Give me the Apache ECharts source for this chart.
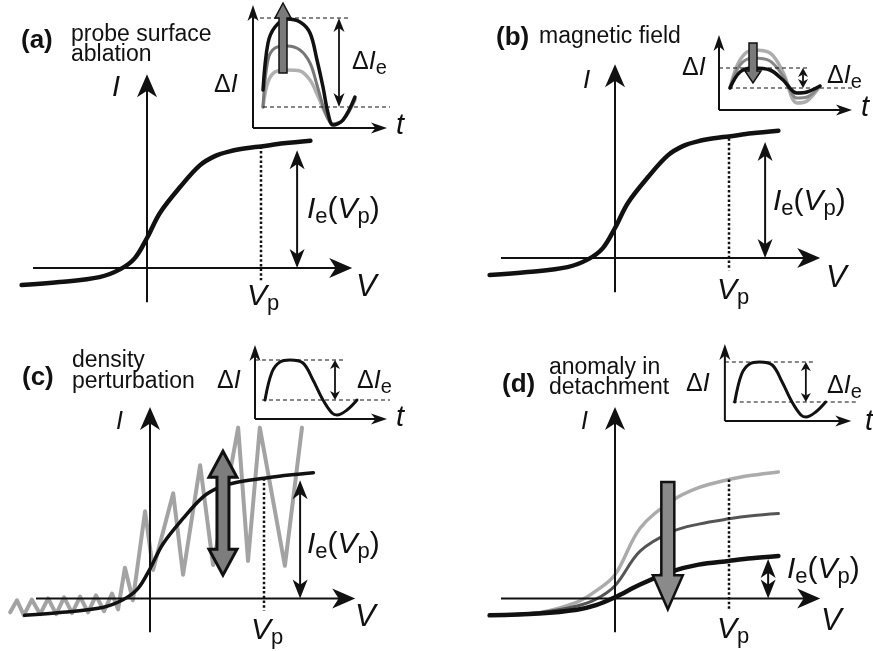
<!DOCTYPE html>
<html>
<head>
<meta charset="utf-8">
<script src="https://cdn.jsdelivr.net/npm/echarts@6/dist/echarts.min.js"></script>
<style>
  html, body { margin: 0; background: #fff; }
  #chart { width: 873px; height: 651px; }
</style>
</head>
<body>
<div id="chart"></div>
<script>
// ---- data (sketch units) ----
// ideal probe I-V characteristic
const ivV = [-3.3, -2.3, -1.25, -0.7, -0.32, 0, 0.34, 0.87, 1.39, 1.8, 2.18, 2.6, 3.0, 3.6, 4.3];
const ivI = [-0.45, -0.37, -0.24, -0.03, 0.26, 0.79, 1.45, 2.13, 2.7, 2.95, 3.07, 3.15, 3.2, 3.28, 3.35];

// (c) fluctuating characteristic
const zigV = [-3.68, -3.5, -3.32, -3.11, -2.89, -2.68, -2.47, -2.26, -2.05, -1.84, -1.63, -1.42, -1.21, -1.0,
  -0.84, -0.66, -0.45, -0.13, 0.08, 0.61, 0.87, 1.32, 1.66, 2.32, 2.58, 2.89, 3.55, 4.0];
const zigI = [-0.37, -0.05, -0.45, -0.03, -0.42, 0, -0.42, 0.03, -0.39, 0.05, -0.37, 0.08, -0.34, 0.13,
  -0.29, 0.82, -0.05, 2.32, 0.76, 2.8, 0.63, 3.55, 0.89, 4.55, 1.0, 4.55, 0.87, 4.55];

// (d) characteristics during detachment
const detV = [-3.3, -2.0, -1.0, -0.5, 0, 0.66, 1.5, 2.2, 3.0, 3.6, 4.3];
const detHighI = [-0.45, -0.38, -0.1, 0.2, 0.63, 1.87, 2.6, 2.95, 3.17, 3.28, 3.37];
const detMidI = [-0.45, -0.38, -0.2, -0.02, 0.34, 1.26, 1.78, 1.98, 2.12, 2.2, 2.26];
const detLowI = [-0.45, -0.4, -0.3, -0.18, 0.03, 0.37, 0.72, 0.9, 1.0, 1.07, 1.13];

// insets: delta I vs t
const ablT = [1.0, 1.5, 2.2, 3.4, 4.7, 5.7, 6.4, 7.0, 7.5, 8.0, 9.0, 10.2];
const ablBlack = [3.8, 8.5, 10.1, 10.9, 10.6, 9.5, 6.8, 4.1, 1.5, 0.3, 0.8, 3.1];
const ablMid = [2.1, 6.8, 8.0, 8.2, 7.8, 6.5, 4.3, 2.2, 0.9, 0.4, 0.8, 2.9];
const ablLow = [2.1, 4.6, 5.6, 5.8, 5.7, 4.8, 3.4, 2.0, 1.0, 0.4, 0.8, 2.8];

const fldT = [1.1, 2.1, 3.4, 5.1, 6.4, 7.8, 8.8, 10.1];
const fldBlack = [2.2, 3.8, 4.2, 4.0, 3.0, 1.7, 1.8, 2.4];
const fldMid = [2.2, 4.5, 5.2, 4.9, 3.4, 1.2, 1.3, 2.4];
const fldHigh = [2.2, 5.0, 6.0, 5.7, 3.8, 0.7, 0.9, 2.4];

const stdT = [1.0, 1.7, 2.5, 3.5, 4.8, 5.8, 6.8, 7.7, 8.2, 9.2, 10.2];
const stdDI = [1.9, 4.7, 5.7, 5.9, 5.6, 3.9, 1.9, 0.6, 0.4, 0.9, 1.9];

// annotation levels
const Vp = 3.0;
const ivAtVp = 3.2;
const ieTop = [3.1, 3.05, 3.15, 1.05];
const dIeTop = [11.0, 4.2, 5.9, 5.9];
const dIeBottom = [2.1, 2.2, 1.9, 1.9];

// ---- layout ----
const U = 38, u = 10;
const mainOrigins = [[147, 268], [615, 258], [150, 601], [615, 601]];
const insetOrigins = [[253, 128], [719, 110], [255, 419], [725, 421]];
const insetYMax = [12.8, 7.8, 7.8, 7.8];
const ink = '#111';

const grids = [], xAxes = [], yAxes = [];
mainOrigins.forEach(([ox, oy], i) => {
  grids.push({ left: ox - 3.8 * U, top: oy - 5.6 * U, width: 9.6 * U, height: 7 * U });
  xAxes.push({ type: 'value', gridIndex: i, min: -3.8, max: 5.8, show: false });
  yAxes.push({ type: 'value', gridIndex: i, min: -1.4, max: 5.6, show: false });
});
insetOrigins.forEach(([ox, oy], i) => {
  const ym = insetYMax[i];
  grids.push({ left: ox - u, top: oy - ym * u, width: 16 * u, height: (ym + 1) * u });
  xAxes.push({ type: 'value', gridIndex: 4 + i, min: -1, max: 15, show: false });
  yAxes.push({ type: 'value', gridIndex: 4 + i, min: -1, max: ym, show: false });
});

const pairs = (xs, ys) => xs.map((x, k) => [x, ys[k]]);

function curve(gi, xs, ys, color, width, z, smooth) {
  return {
    type: 'line', xAxisIndex: gi, yAxisIndex: gi, data: pairs(xs, ys),
    smooth: smooth === undefined ? 0.35 : smooth,
    showSymbol: false, clip: false, silent: true, z: z || 2,
    lineStyle: { color: color, width: width, cap: 'round', join: 'round' }
  };
}

// thin lines with optional notched arrow heads
function arrows(gi, rows, o) {
  return {
    type: 'custom', coordinateSystem: 'cartesian2d', xAxisIndex: gi, yAxisIndex: gi,
    silent: true, clip: false, z: o.z || 3, data: rows,
    renderItem: function (params, api) {
      const a = api.coord([api.value(0), api.value(1)]);
      const b = api.coord([api.value(2), api.value(3)]);
      const dx = b[0] - a[0], dy = b[1] - a[1], len = Math.hypot(dx, dy) || 1;
      const ux = dx / len, uy = dy / len, px = -uy, py = ux;
      const H = o.head || [0, 0];
      const head = (tip, sx, sy) => {
        const L = H[1], W = H[0] / 2;
        const bx = tip[0] - sx * L, by = tip[1] - sy * L;
        const nx = tip[0] - sx * L * 0.72, ny = tip[1] - sy * L * 0.72;
        return { type: 'polygon', shape: { points: [tip, [bx + px * W, by + py * W], [nx, ny], [bx - px * W, by - py * W]] },
          style: { fill: o.color || ink } };
      };
      let s = a, e = b;
      if (o.end) e = [b[0] - ux * H[1] * 0.7, b[1] - uy * H[1] * 0.7];
      if (o.start) s = [a[0] + ux * H[1] * 0.7, a[1] + uy * H[1] * 0.7];
      const kids = [{ type: 'line', shape: { x1: s[0], y1: s[1], x2: e[0], y2: e[1] },
        style: { stroke: o.color || ink, lineWidth: o.width || 2, lineDash: o.dash || null } }];
      if (o.end) kids.push(head(b, ux, uy));
      if (o.start) kids.push(head(a, -ux, -uy));
      return { type: 'group', children: kids };
    }
  };
}

// filled block arrows with dark outline
function blockArrow(gi, rows, o) {
  return {
    type: 'custom', coordinateSystem: 'cartesian2d', xAxisIndex: gi, yAxisIndex: gi,
    silent: true, clip: false, z: 6, data: rows,
    renderItem: function (params, api) {
      const a = api.coord([api.value(0), api.value(1)]);
      const b = api.coord([api.value(2), api.value(3)]);
      const dx = b[0] - a[0], dy = b[1] - a[1], len = Math.hypot(dx, dy) || 1;
      const ux = dx / len, uy = dy / len, px = -uy, py = ux;
      const sw = o.shaft / 2, hw = o.headW / 2, hl = o.headL;
      const at = (p, along, side) => [p[0] + ux * along + px * side, p[1] + uy * along + py * side];
      let pts;
      if (o.both) {
        pts = [a, at(a, hl, hw), at(a, hl, sw), at(b, -hl, sw), at(b, -hl, hw), b,
               at(b, -hl, -hw), at(b, -hl, -sw), at(a, hl, -sw), at(a, hl, -hw)];
      } else {
        pts = [at(a, 0, sw), at(b, -hl, sw), at(b, -hl, hw), b, at(b, -hl, -hw), at(b, -hl, -sw), at(a, 0, -sw)];
      }
      return { type: 'polygon', shape: { points: pts },
        style: { fill: o.fill || '#8a8a8a', stroke: ink, lineWidth: o.stroke || 2, lineJoin: 'miter' } };
    }
  };
}

const series = [];

// main panels: axes, Vp marker, Ie(Vp) arrow
const ieX = [3.95, 3.95, 3.95, 4.03];
const vpTop = [ivAtVp, ivAtVp - 0.05, ivAtVp, 3.17];
for (let i = 0; i < 4; i++) {
  series.push(arrows(i, [[-3.0, 0, 5.4, 0], [0, -0.9, 0, 5.1]], { end: true, head: [20, 23], width: 2 }));
  series.push(arrows(i, [[Vp, vpTop[i], Vp, -0.32]], { width: 2.5, dash: [2.5, 2.2] }));
  series.push(arrows(i, [[ieX[i], 0, ieX[i], ieTop[i]]], { start: true, end: true, head: [15, 19], width: 2 }));
}
// curves
series.push(curve(0, ivV, ivI, ink, 4.5, 4));
series.push(curve(1, ivV, ivI, ink, 4.5, 4));
series.push(curve(2, zigV, zigI, '#a3a3a3', 4, 2, false));
series.push(curve(2, ivV, ivI, ink, 3.5, 4));
series.push(curve(3, detV, detHighI, '#ababab', 3.5, 2));
series.push(curve(3, detV, detMidI, '#555', 3, 2));
series.push(curve(3, detV, detLowI, ink, 4.5, 4));
series.push(blockArrow(2, [[1.92, 0.62, 1.92, 3.92]], { shaft: 12, headW: 28, headL: 26, both: true, stroke: 3, fill: '#7d7d7d' }));
series.push(blockArrow(3, [[1.39, 3.1, 1.39, -0.29]], { shaft: 13, headW: 30, headL: 34, stroke: 2.5, fill: '#8a8a8a' }));

// insets
const insetTips = [[13.4, 12.3], [13.3, 7.5], [13.2, 7.4], [12.8, 7.7]];
const dashTopEnd = [9.7, 8.8, 9.0, 9.2];
const dashBot = [[1.0, 13.7], [1.0, 13.6], [0.7, 13.5], [0.8, 13.4]];
const dIeX = [8.6, 8.4, 8.0, 8.2];
for (let i = 0; i < 4; i++) {
  const gi = 4 + i;
  series.push(arrows(gi, [[0, 0, insetTips[i][0], 0], [0, 0, 0, insetTips[i][1]]], { end: true, head: [11, 16], width: 2 }));
  series.push(arrows(gi, [[0, dIeTop[i], dashTopEnd[i], dIeTop[i]], [dashBot[i][0], dIeBottom[i], dashBot[i][1], dIeBottom[i]]],
    { width: 1.2, dash: [4, 3] }));
  const small = i > 0;
  series.push(arrows(gi, [[dIeX[i], dIeBottom[i], dIeX[i], dIeTop[i]]],
    { start: true, end: true, head: small ? [10, 9] : [11, 14], width: 1.8 }));
}
series.push(curve(4, ablT, ablLow, '#b0b0b0', 3.5, 2));
series.push(curve(4, ablT, ablMid, '#777', 3, 2));
series.push(curve(4, ablT, ablBlack, ink, 3.5, 4));
series.push(blockArrow(4, [[3.0, 5.5, 3.0, 12.5]], { shaft: 8, headW: 16, headL: 15, stroke: 1.5, fill: '#7a7a7a' }));
series.push(curve(5, fldT, fldHigh, '#adadad', 3.5, 2));
series.push(curve(5, fldT, fldMid, '#888', 3, 2));
series.push(curve(5, fldT, fldBlack, ink, 3.5, 4));
series.push(blockArrow(5, [[3.4, 6.7, 3.4, 2.7]], { shaft: 8, headW: 16, headL: 12, stroke: 1.5, fill: '#7a7a7a' }));
series.push(curve(6, stdT, stdDI, ink, 3, 4));
series.push(curve(7, stdT, stdDI, ink, 3, 4));

// ---- text ----
const FAM = '"Liberation Sans", Arial, Helvetica, sans-serif';
const mctx = document.createElement('canvas').getContext('2d');
function txt(x, y, t, font, extra) {
  return Object.assign({ type: 'text', x: x, y: y, silent: true, z: 10,
    style: { text: t, font: font, fill: ink, textAlign: 'left', textVerticalAlign: 'middle', align: 'left', verticalAlign: 'middle' } }, extra || {});
}
function seq(x, y, parts) {
  const out = [];
  parts.forEach(([t, font, dy]) => {
    out.push(txt(x, y + (dy || 0), t, font));
    mctx.font = font;
    x += mctx.measureText(t).width;
  });
  return out;
}
const it = s => 'italic ' + s + 'px ' + FAM;
const rg = s => s + 'px ' + FAM;
const bd = s => 'bold ' + s + 'px ' + FAM;
const ieVp = (x, y) => seq(x, y, [['I', it(30)], ['e', rg(22), 7], ['(', rg(30)], ['V', it(30)], ['p', rg(22), 7], [')', rg(30)]]);
const vpLab = (x, y) => seq(x, y, [['V', it(30)], ['p', rg(22), 7]]);
const dI = (x, y) => seq(x, y, [['\u0394', rg(25)], ['I', it(25)]]);
const dIe = (x, y) => seq(x, y, [['\u0394', rg(25)], ['I', it(25)], ['e', rg(20), 6]]);

const labels = [].concat(
  // (a)
  [txt(21, 41, '(a)', bd(26)), txt(71, 35, 'probe surface', rg(23)), txt(71, 55, 'ablation', rg(23)),
   txt(112, 88, 'I', it(29)), txt(356, 287, 'V', it(31)), txt(396, 126, 't', it(29))],
  vpLab(247, 297), ieVp(307, 210), dI(214, 85), dIe(352, 62),
  // (b)
  [txt(496, 38, '(b)', bd(26)), txt(539, 37, 'magnetic field', rg(23)),
   txt(583, 81, 'I', it(26)), txt(826, 278, 'V', it(31)), txt(861, 108, 't', it(29))],
  vpLab(717, 291), ieVp(773, 202), dI(682, 68), dIe(827, 76),
  // (c)
  [txt(22, 378, '(c)', bd(26)), txt(72, 361, 'density', rg(23)), txt(72, 382, 'perturbation', rg(23)),
   txt(116, 422, 'I', it(25)), txt(355, 617, 'V', it(31)), txt(396, 418, 't', it(29))],
  vpLab(251, 631), ieVp(307, 545), dI(217, 381), dIe(357, 381),
  // (d)
  [txt(502, 385, '(d)', bd(26)), txt(549, 368, 'anomaly in', rg(23)), txt(549, 388, 'detachment', rg(23)),
   txt(581, 422, 'I', it(25)), txt(821, 621, 'V', it(31)), txt(865, 422, 't', it(29))],
  vpLab(717, 630), ieVp(787, 570), dI(686, 384), dIe(827, 386)
);

const chart = echarts.init(document.getElementById('chart'), null, { renderer: 'canvas' });
chart.setOption({
  backgroundColor: '#fff',
  animation: false,
  grid: grids,
  xAxis: xAxes,
  yAxis: yAxes,
  series: series,
  graphic: { elements: labels }
});
</script>
</body>
</html>
